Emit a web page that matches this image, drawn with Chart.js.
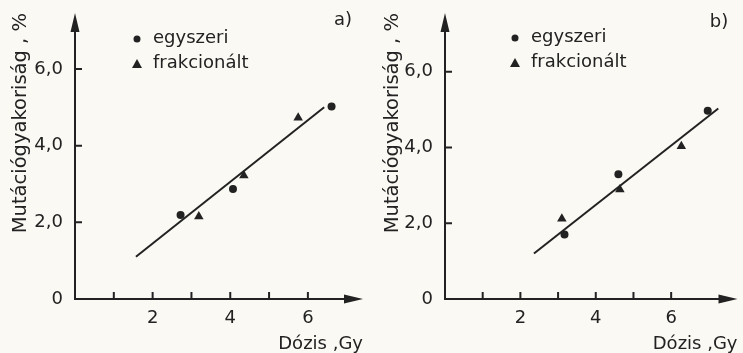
<!DOCTYPE html>
<html>
<head>
<meta charset="utf-8">
<title>Mutációgyakoriság</title>
<script src="https://cdn.jsdelivr.net/npm/chart.js@4/dist/chart.umd.min.js"></script>
<style>
  html, body { margin: 0; padding: 0; background: #faf9f4; }
  #wrap { position: relative; width: 743px; height: 353px; }
  canvas { position: absolute; top: 0; }
  #chartA { left: 0; }
  #chartB { left: 372px; }
</style>
</head>
<body>
<div id="wrap">
  <canvas id="chartA" width="372" height="353"></canvas>
  <canvas id="chartB" width="371" height="353"></canvas>
</div>
<script>
// a) panel
const singleDoseA = [2.72, 4.07, 6.61];
const singleFreqA = [2.19, 2.87, 5.02];
const fracDoseA = [3.19, 4.35, 5.75];
const fracFreqA = [2.15, 3.22, 4.73];
const fitDoseA = [1.57, 6.42];
const fitFreqA = [1.10, 5.00];

// b) panel
const singleDoseB = [3.17, 4.60, 6.97];
const singleFreqB = [1.70, 3.29, 4.97];
const fracDoseB = [3.10, 4.64, 6.27];
const fracFreqB = [2.12, 2.89, 4.03];
const fitDoseB = [2.36, 7.25];
const fitFreqB = [1.20, 5.03];

// axes
const xTickValues = [1, 2, 3, 4, 5, 6];
const xLabelValues = [2, 4, 6];
const yTickValues = [0, 2, 4, 6];
const yTickLabels = ['0', '2,0', '4,0', '6,0'];

const ink = '#222222';
const fontFamily = '"DejaVu Sans", sans-serif';

const toPoints = (xs, ys) => xs.map((v, i) => ({ x: v, y: ys[i] }));

// axis lines with arrowheads and inward tick marks, legend and panel letter
const inkPlugin = {
    id: 'inkPlugin',
    beforeDatasetsDraw(chart, args, opts) {
        const { ctx, chartArea, scales: { x, y } } = chart;
        const x0 = x.getPixelForValue(0), y0 = y.getPixelForValue(0);
        ctx.save();
        ctx.strokeStyle = ink;
        ctx.fillStyle = ink;
        ctx.lineWidth = 2;
        ctx.lineCap = 'butt';
        ctx.beginPath();
        ctx.moveTo(x0, y0); ctx.lineTo(chartArea.right - 12, y0);
        ctx.moveTo(x0, y0 + 1); ctx.lineTo(x0, chartArea.top + 12);
        xTickValues.forEach(v => {
            const px = x.getPixelForValue(v);
            ctx.moveTo(px, y0); ctx.lineTo(px, y0 - 7);
        });
        yTickValues.filter(v => v > 0).forEach(v => {
            const py = y.getPixelForValue(v);
            ctx.moveTo(x0, py); ctx.lineTo(x0 + 7, py);
        });
        ctx.stroke();

        // arrowheads
        ctx.beginPath();
        ctx.moveTo(chartArea.right, y0);
        ctx.lineTo(chartArea.right - 19, y0 - 4.5);
        ctx.lineTo(chartArea.right - 19, y0 + 4.5);
        ctx.closePath();
        ctx.moveTo(x0, chartArea.top);
        ctx.lineTo(x0 - 4.5, chartArea.top + 19);
        ctx.lineTo(x0 + 4.5, chartArea.top + 19);
        ctx.closePath();
        ctx.fill();
        ctx.restore();
    },
    afterDraw(chart, args, opts) {
        const { ctx, chartArea } = chart;
        ctx.save();
        ctx.fillStyle = ink;
        ctx.font = '18px ' + fontFamily;
        ctx.textBaseline = 'middle';

        // legend
        const lx = chartArea.left + opts.legendX;
        chart.data.datasets.filter(d => d.inLegend).forEach((d, i) => {
            const ly = opts.legendY + i * 25;
            ctx.beginPath();
            if (d.pointStyle === 'triangle') {
                ctx.moveTo(lx, ly - 5);
                ctx.lineTo(lx - 5, ly + 4);
                ctx.lineTo(lx + 5, ly + 4);
                ctx.closePath();
            } else {
                ctx.arc(lx, ly, 3.5, 0, Math.PI * 2);
            }
            ctx.fill();
            ctx.textAlign = 'left';
            ctx.fillText(d.label, lx + 16, ly - 1);
        });

        // panel letter
        ctx.textAlign = 'center';
        ctx.fillText(opts.letter, opts.letterX, opts.letterY);
        ctx.restore();
    }
};

function makeChart(id, cfg) {
    const axisWidth = cfg.axisWidth;
    return new Chart(document.getElementById(id), {
        type: 'scatter',
        data: {
            datasets: [
                {
                    label: 'egyszeri',
                    inLegend: true,
                    data: toPoints(cfg.singleDose, cfg.singleFreq),
                    pointStyle: 'circle',
                    pointRadius: 4,
                    backgroundColor: ink,
                    borderColor: ink,
                    borderWidth: 0
                },
                {
                    label: 'frakcionált',
                    inLegend: true,
                    data: toPoints(cfg.fracDose, cfg.fracFreq),
                    pointStyle: 'triangle',
                    pointRadius: 5.5,
                    backgroundColor: ink,
                    borderColor: ink,
                    borderWidth: 0
                },
                {
                    label: 'illesztés',
                    data: toPoints(cfg.fitDose, cfg.fitFreq),
                    showLine: true,
                    pointRadius: 0,
                    borderColor: ink,
                    borderWidth: 2
                }
            ]
        },
        options: {
            responsive: false,
            animation: false,
            layout: { padding: { top: 13, right: cfg.rightPad, left: 0, bottom: 0 } },
            plugins: {
                legend: { display: false },
                tooltip: { enabled: false },
                inkPlugin: cfg.decor
            },
            scales: {
                x: {
                    type: 'linear',
                    min: 0,
                    max: cfg.xMax,
                    border: { display: false },
                    grid: { display: false, drawTicks: false },
                    afterFit: s => {
                        s.height = 54;
                        s.paddingLeft = 0;
                        s.paddingRight = 0;
                    },
                    ticks: {
                        stepSize: 1,
                        autoSkip: false,
                        maxRotation: 0,
                        padding: 9,
                        color: ink,
                        font: { family: fontFamily, size: 18 },
                        callback: v => xLabelValues.includes(v) ? String(v) : ''
                    },
                    title: {
                        display: true,
                        text: 'Dózis ,Gy',
                        align: 'end',
                        color: ink,
                        padding: 0,
                        font: { family: fontFamily, size: 18, lineHeight: 1 }
                    }
                },
                y: {
                    type: 'linear',
                    min: 0,
                    max: cfg.yMax,
                    border: { display: false },
                    grid: { display: false, drawTicks: false },
                    afterFit: s => {
                        s.width = axisWidth;
                        s.paddingTop = 0;
                        s.paddingBottom = 0;
                    },
                    ticks: {
                        stepSize: 2,
                        autoSkip: false,
                        padding: 12,
                        color: ink,
                        font: { family: fontFamily, size: 18 },
                        callback: v => {
                            const k = yTickValues.indexOf(v);
                            return k >= 0 ? yTickLabels[k] : '';
                        }
                    },
                    title: {
                        display: true,
                        text: 'Mutációgyakoriság , %',
                        align: 'end',
                        color: ink,
                        padding: { top: 11, bottom: 0 },
                        font: { family: fontFamily, size: 19.5, lineHeight: 1 }
                    }
                }
            }
        },
        plugins: [inkPlugin]
    });
}

makeChart('chartA', {
    singleDose: singleDoseA, singleFreq: singleFreqA,
    fracDose: fracDoseA, fracFreq: fracFreqA,
    fitDose: fitDoseA, fitFreq: fitFreqA,
    axisWidth: 75, rightPad: 9, xMax: 7.42, yMax: 7.46,
    decor: { legendX: 62, legendY: 39, letter: 'a)', letterX: 343, letterY: 20 }
});

makeChart('chartB', {
    singleDose: singleDoseB, singleFreq: singleFreqB,
    fracDose: fracDoseB, fracFreq: fracFreqB,
    fitDose: fitDoseB, fitFreq: fitFreqB,
    axisWidth: 73, rightPad: 4, xMax: 7.76, yMax: 7.55,
    decor: { legendX: 70, legendY: 38, letter: 'b)', letterX: 347, letterY: 22 }
});
</script>
</body>
</html>
